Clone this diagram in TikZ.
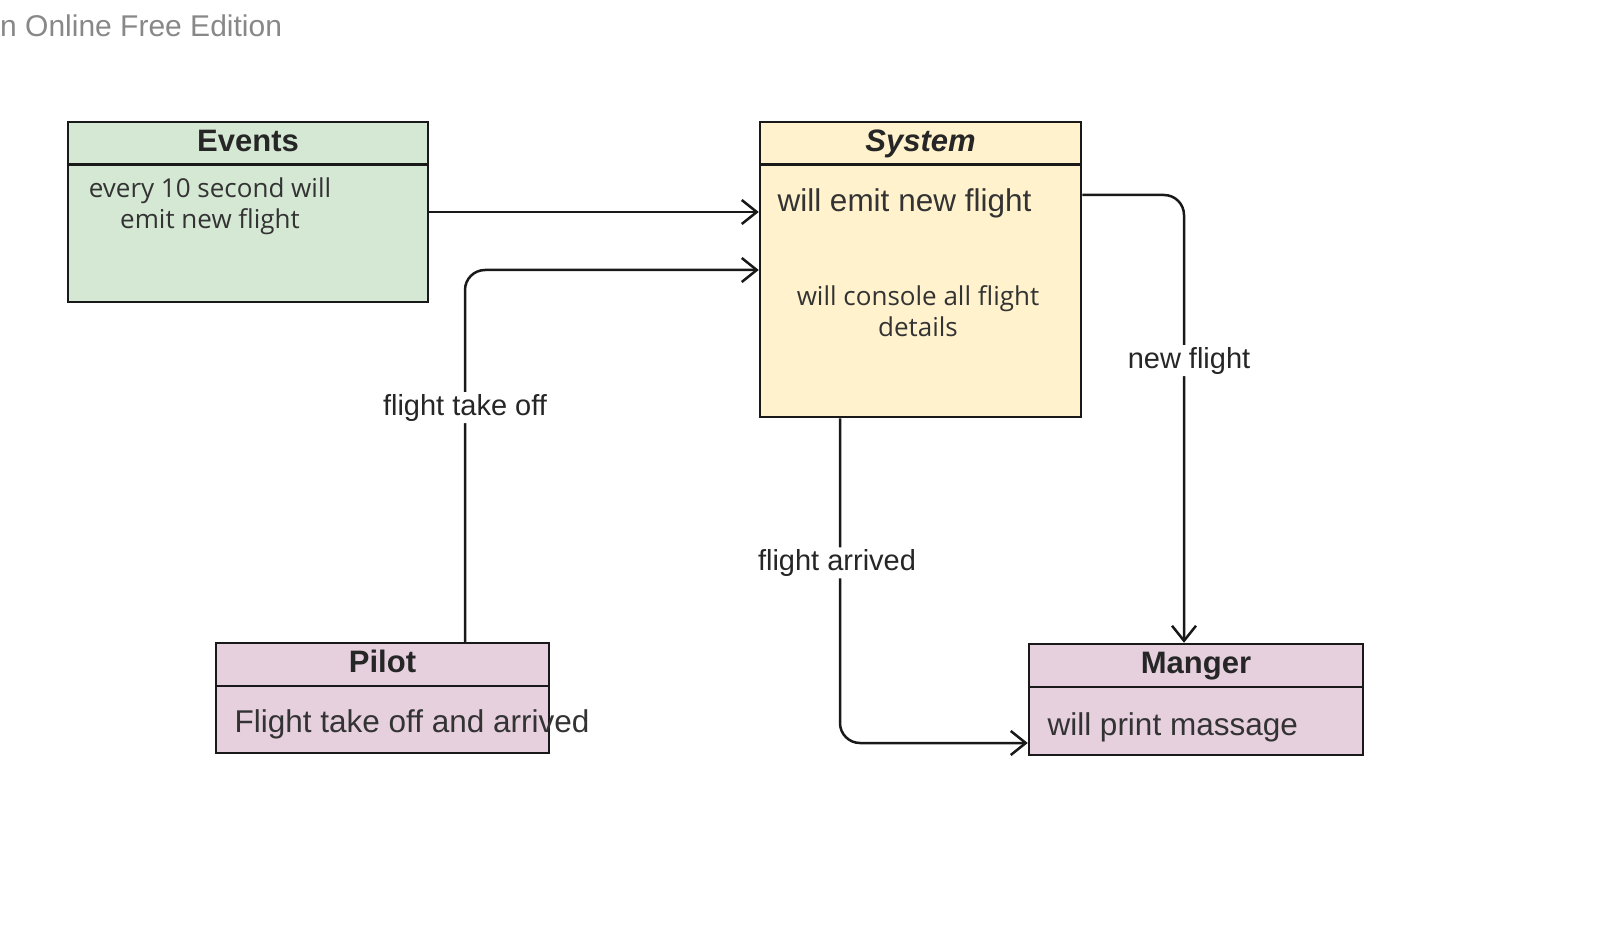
\documentclass[tikz,border=0pt]{standalone}
\usepackage{fontspec}
\setmainfont{Liberation Sans}
\newfontfamily\notefont{Open Sans}
\usetikzlibrary{arrows.meta}
\definecolor{evgreen}{HTML}{D5E8D4}
\definecolor{sysyellow}{HTML}{FFF2CC}
\definecolor{actpink}{HTML}{E6D0DE}
\definecolor{ink}{HTML}{333333}
\definecolor{wm}{HTML}{888888}
\tikzset{
  classbox/.style={draw=black!90, line width=2.5pt, inner sep=0pt},
  title/.style={anchor=base, font=\fontsize{31}{36}\selectfont\bfseries, text=black!85},
  body/.style={anchor=base west, font=\fontsize{31.5}{36}\selectfont, text=ink},
  note/.style={align=center, font=\notefont\fontsize{26}{31}\selectfont, text=ink},
  flow/.style={line width=2.5pt, draw=black!90, rounded corners=20pt, -{Straight Barb[length=15pt,width=24pt]}},
  lbl/.style={fill=white, inner sep=2pt, font=\fontsize{29}{32}\selectfont, text=black!85}
}
\begin{document}
\begin{tikzpicture}[x=1pt,y=-1pt]
  \useasboundingbox (0,0) rectangle (1600,925);
  \node[anchor=base west, inner sep=0pt, text=wm, font=\fontsize{30}{36}\selectfont] (wmark) at (0,37) {n Online Free Edition};

  \node[classbox, fill=evgreen, minimum width=360, minimum height=180] (events) at (248,212) {};
  \node[classbox, fill=sysyellow, minimum width=321, minimum height=295] (system) at (920.5,269.5) {};
  \node[classbox, fill=actpink, minimum width=333, minimum height=110] (pilot) at (382.5,698) {};
  \node[classbox, fill=actpink, minimum width=334, minimum height=111] (manger) at (1196,699.5) {};
  \foreach \b in {events,system,pilot,manger}
    \draw[line width=2.5pt, black!90] ([yshift=-44pt]\b.north west) -- ([yshift=-44pt]\b.north east);

  \node[title] (eventstitle) at (248,152) {Events};
  \node[title, font=\fontsize{31}{36}\selectfont\bfseries\itshape] (systemtitle) at (920.5,152) {System};
  \node[title] (pilottitle) at (382.5,672) {Pilot};
  \node[title] (mangertitle) at (1196,673) {Manger};

  \node[note] (eventsnote) at (210,206) {every 10 second will\\emit new flight};
  \node[body] (emit) at (774,212) {will emit new flight};
  \node[note] (console) at (918,311) {will console all flight\\details};
  \node[body] (pilotbody) at (231,732) {Flight take off and arrived};
  \node[body] (mangerbody) at (1044,735) {will print massage};

  \coordinate (takeoff) at (465,270);
  \coordinate (newfl) at (1184,195);
  \coordinate (arrived) at (840,743);

  \draw[flow] (events.east) -- (events.east -| system.west);
  \draw[flow] (takeoff |- pilot.north) -- node[lbl, pos=0.63] {flight take off} (takeoff) -- (takeoff -| system.west);
  \draw[flow] (system.east |- newfl) -- (newfl) -- node[lbl, pos=0.37, xshift=5pt] {new flight} (newfl |- manger.north);
  \draw[flow] (arrived |- system.south) -- node[lbl, pos=0.445, xshift=-3pt] {flight arrived} (arrived) -- (arrived -| manger.west);
\end{tikzpicture}
\end{document}
